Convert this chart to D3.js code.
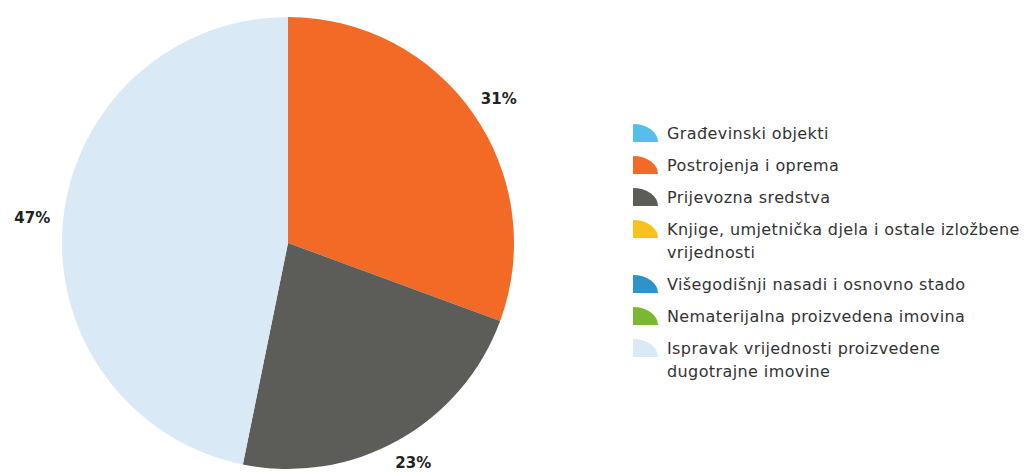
<!DOCTYPE html>
<html>
<head>
<meta charset="utf-8">
<script src="https://cdn.jsdelivr.net/npm/d3@7"></script>
<style>
  body { margin: 0; background: #fff; }
  svg { display: block; }
</style>
</head>
<body>
<div id="pieChart"></div>
<script>

// categories (legend order) and their share in percent
var categories = [
  'Građevinski objekti',
  'Postrojenja i oprema',
  'Prijevozna sredstva',
  'Knjige, umjetnička djela i ostale izložbene vrijednosti',
  'Višegodišnji nasadi i osnovno stado',
  'Nematerijalna proizvedena imovina',
  'Ispravak vrijednosti proizvedene dugotrajne imovine'
];
var shares = [0, 30.6, 22.6, 0, 0, 0, 46.8];
var legendLines = [
  ['Građevinski objekti'],
  ['Postrojenja i oprema'],
  ['Prijevozna sredstva'],
  ['Knjige, umjetnička djela i ostale izložbene', 'vrijednosti'],
  ['Višegodišnji nasadi i osnovno stado'],
  ['Nematerijalna proizvedena imovina'],
  ['Ispravak vrijednosti proizvedene', 'dugotrajne imovine']
];
var colors = ['#55bfe8', '#f26a26', '#5c5c59', '#f7c21e', '#2f93c8', '#7cb733', '#dae9f6'];

var width = 1035, height = 473;
var cx = 288, cy = 243, radius = 226, labelRadius = 252;

var data = categories.map(function(c, i){
  return {name: c, value: shares[i], color: colors[i], lines: legendLines[i]};
});

var svg = d3.select('#pieChart')
  .append('svg')
  .attr('width', width)
  .attr('height', height);

var pie = d3.pie()
  .sort(null)
  .value(function(d){ return d.value; });

var arc = d3.arc().innerRadius(0).outerRadius(radius);
var labelArc = d3.arc().innerRadius(labelRadius).outerRadius(labelRadius);

var total = d3.sum(shares);

var g = svg.append('g')
  .attr('transform', 'translate(' + cx + ',' + cy + ')');

var slices = g.selectAll('g.slice')
  .data(pie(data).filter(function(d){ return d.data.value > 0; }))
  .enter()
    .append('g')
    .classed('slice', true);

slices.append('path')
  .attr('d', arc)
  .attr('fill', function(d){ return d.data.color; });

slices.append('text')
  .attr('transform', function(d){
    var c = labelArc.centroid(d);
    return 'translate(' + (c[0] * 1.02) + ',' + c[1] + ')';
  })
  .attr('text-anchor', 'middle')
  .attr('dy', '0.35em')
  .attr('font-family', 'DejaVu Sans, Verdana, sans-serif')
  .attr('font-weight', 'bold')
  .attr('font-size', 15)
  .attr('fill', '#222')
  .text(function(d){ return Math.round(d.data.value / total * 100) + '%'; });

// legend
var legendX = 633, legendY = 133, entryGap = 32, lineGap = 23;
var iconW = 25, iconH = 18;
var quarter = d3.arc()({innerRadius: 0, outerRadius: 1, startAngle: 0, endAngle: Math.PI / 2});

var legend = svg.append('g').attr('class', 'legend');
var y = legendY;
data.forEach(function(d){
  var item = legend.append('g')
    .attr('transform', 'translate(' + legendX + ',' + y + ')');

  item.append('path')
    .attr('d', quarter)
    .attr('transform', 'translate(0,' + (iconH / 2) + ') scale(' + iconW + ',' + iconH + ')')
    .attr('fill', d.color);

  item.selectAll('text')
    .data(d.lines)
    .enter()
      .append('text')
      .attr('x', 34)
      .attr('y', function(t, i){ return i * lineGap; })
      .attr('dy', '0.35em')
      .attr('font-family', 'DejaVu Sans, Verdana, sans-serif')
      .attr('font-size', 16)
      .attr('letter-spacing', 0.4)
      .attr('fill', '#333')
      .text(function(t){ return t; });

  y += (d.lines.length - 1) * lineGap + entryGap;
});

</script>
</body>
</html>
